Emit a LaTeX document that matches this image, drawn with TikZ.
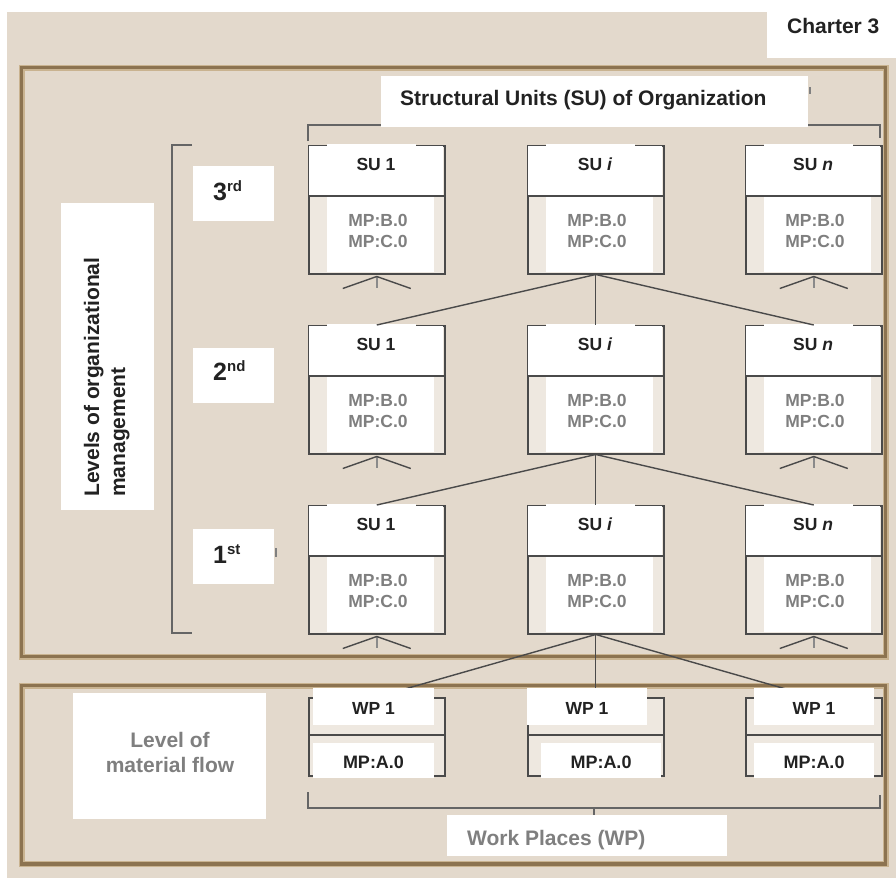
\documentclass[tikz,border=0pt]{standalone}
\usepackage{fontspec}
\setmainfont{Liberation Sans}
\usetikzlibrary{calc}
\definecolor{bg}{HTML}{E3D9CC}
\definecolor{framec}{HTML}{8C7350}
\definecolor{framehi}{HTML}{C9B390}
\definecolor{lineg}{HTML}{4A4A4A}
\definecolor{stubg}{HTML}{8A8A8A}
\definecolor{txtg}{HTML}{7F7F7F}
\definecolor{txtk}{HTML}{222222}
\definecolor{boxbg}{HTML}{EEE8E0}
\tikzset{
  frameout/.style={draw=framehi, line width=6pt},
  framein/.style={draw=framec, line width=3.2pt},
  boxline/.style={draw=lineg, line width=1.5pt},
  conn/.style={draw=lineg, line width=1.4pt},
  brk/.style={draw=lineg!85, line width=1.8pt},
  whitebox/.style={fill=white, draw=none, inner sep=0pt, anchor=north west},
  sutxt/.style={font=\fontsize{17.5}{20}\selectfont\bfseries, text=txtk, inner sep=0pt},
  mptxt/.style={font=\fontsize{17.5}{21}\selectfont\bfseries, text=txtg, align=center, inner sep=0pt},
  wptxt/.style={font=\fontsize{17.5}{20}\selectfont\bfseries, text=txtk, inner sep=0pt},
  bigtxt/.style={font=\fontsize{21}{25}\selectfont\bfseries, inner sep=0pt},
  lvltxt/.style={font=\fontsize{25}{28}\selectfont\bfseries, text=txtk, inner sep=0pt, anchor=base west},
}
\newcommand\SUbox[4]{%
  \node[boxline, fill=boxbg, minimum width=136pt, minimum height=128pt, inner sep=0pt, anchor=north west] (#1) at (#2,#3) {};
  \fill[white] (#2+0.8,#3+0.8) rectangle (#2+135.2,#3+50);
  \fill[white] (#2+19,#3-0.8) rectangle (#2+108,#3+2);
  \fill[white] (#2+19,#3+52) rectangle (#2+126,#3+127);
  \draw[boxline] (#2,#3+51) -- (#2+136,#3+51);
  \node[sutxt] (#1-t) at (#2+68,#3+19) {#4};
  \node[mptxt] (#1-m) at (#2+70,#3+86) {MP:B.0\\MP:C.0};
}
\newcommand\forkmark[1]{%
  \draw[stubg, line width=2.5pt] ($(#1.south)+(0,1)$) -- ++(0,12);
  \draw[conn] ($(#1.south)+(-34,14)$) -- ($(#1.south)+(0,2)$) -- ($(#1.south)+(34,14)$);
}
\newcommand\WPframe[2]{%
  \node[boxline, fill=boxbg, minimum width=136pt, minimum height=78pt, inner sep=0pt, anchor=north west] (#1) at (#2,697) {};
  \draw[boxline] (#2,735) -- (#2+136,735);
}
\newcommand\WPlabels[6]{%
  \fill[white] (#3,688) rectangle (#4,725);
  \fill[white] (#5,743) rectangle (#6,778);
  \node[wptxt] (#1-t) at ({(#3+#4)/2},708) {WP 1};
  \node[wptxt, font=\fontsize{18}{20}\selectfont\bfseries] (#1-m) at ({(#5+#6)/2},762) {MP:A.0};
}
\begin{document}
\begin{tikzpicture}[x=1pt,y=-1pt]
\useasboundingbox (0,0) rectangle (896,878);
\fill[white] (0,0) rectangle (896,878);
\fill[bg] (7,12) rectangle (896,878);

% frames
\draw[frameout] (21.5,67.5) rectangle (885.5,656.5);
\draw[framein] (21.5,67.5) rectangle (885.5,656.5);
\draw[frameout] (21.5,685.5) rectangle (885.5,864);
\draw[framein] (21.5,685.5) rectangle (885.5,864);

% Charter label
\node[whitebox, minimum width=129pt, minimum height=58pt] (chbox) at (767,0) {};
\node[bigtxt, text=txtk, anchor=base west] (charter) at (787,33) {Charter 3};

% top bracket
\draw[brk] (308,141) -- (308,125) -- (880,125) -- (880,138);
\draw[brk] (594,125) -- (594,112);
\draw[lineg!70, line width=1.2pt] (810,87) -- (810,94);
\node[whitebox, minimum width=427pt, minimum height=51pt] (titlebox) at (381,76) {};
\node[bigtxt, text=txtk, anchor=base west] (title) at (400,105) {Structural Units (SU) of Organization};

% levels bracket
\draw[brk] (192,145) -- (172,145) -- (172,633) -- (192,633);
\node[whitebox, minimum width=93pt, minimum height=307pt] (vbox) at (61,203) {};
\node[bigtxt, text=txtk, rotate=90, anchor=base west] (vt1) at (99,497) {Levels of organizational};
\node[bigtxt, text=txtk, rotate=90, anchor=base west] (vt2) at (125,497) {management};

% level labels
\node[whitebox, minimum width=81pt, minimum height=55pt] (l3box) at (193,166) {};
\node[lvltxt] (l3) at (213,200) {3\raisebox{9pt}{\fontsize{15}{15}\selectfont rd}};
\node[whitebox, minimum width=81pt, minimum height=55pt] (l2box) at (193,348) {};
\node[lvltxt] (l2) at (213,380) {2\raisebox{9pt}{\fontsize{15}{15}\selectfont nd}};
\node[whitebox, minimum width=81pt, minimum height=55pt] (l1box) at (193,529) {};
\node[lvltxt] (l1) at (213,563) {1\raisebox{9pt}{\fontsize{15}{15}\selectfont st}};
\draw[lineg!70, line width=1.5pt] (276,548) -- (276,557);

% SU boxes
\SUbox{s3l}{308}{145}{SU 1}
\SUbox{s3m}{527}{145}{SU \textit{i}}
\SUbox{s3r}{745}{145}{SU \textit{n}}
\SUbox{s2l}{308}{325}{SU 1}
\SUbox{s2m}{527}{325}{SU \textit{i}}
\SUbox{s2r}{745}{325}{SU \textit{n}}
\SUbox{s1l}{308}{505}{SU 1}
\SUbox{s1m}{527}{505}{SU \textit{i}}
\SUbox{s1r}{745}{505}{SU \textit{n}}

\forkmark{s3l}\forkmark{s3r}
\forkmark{s2l}\forkmark{s2r}
\forkmark{s1l}\forkmark{s1r}

% connectors between levels
\draw[conn] (s3m.south) -- (s2l.north);
\draw[conn] (s3m.south) -- (s2m.north);
\draw[conn] (s3m.south) -- (s2r.north);
\draw[conn] (s2m.south) -- (s1l.north);
\draw[conn] (s2m.south) -- (s1m.north);
\draw[conn] (s2m.south) -- (s1r.north);

% work places
\WPframe{w1}{308}
\WPframe{w2}{527}
\WPframe{w3}{745}
\draw[conn] (s1m.south) -- (w1.north);
\draw[conn] (s1m.south) -- (w2.north);
\draw[conn] (s1m.south) -- (w3.north);
\WPlabels{w1}{308}{313}{434}{313}{434}
\WPlabels{w2}{527}{527}{647}{541}{661}
\WPlabels{w3}{745}{754}{874}{754}{874}

% bottom bracket
\draw[brk] (308,792) -- (308,808) -- (880,808) -- (880,795);
\draw[brk] (594,808) -- (594,818);
\node[whitebox, minimum width=280pt, minimum height=41pt] (wpbox) at (447,815) {};
\node[bigtxt, text=txtg, anchor=base west] (wptitle) at (467,845) {Work Places (WP)};

% level of material flow
\node[whitebox, minimum width=193pt, minimum height=126pt] (mfbox) at (73,693) {};
\node[bigtxt, text=txtg, align=center] (mf) at (170,752) {Level of\\material flow};
\end{tikzpicture}
\end{document}
